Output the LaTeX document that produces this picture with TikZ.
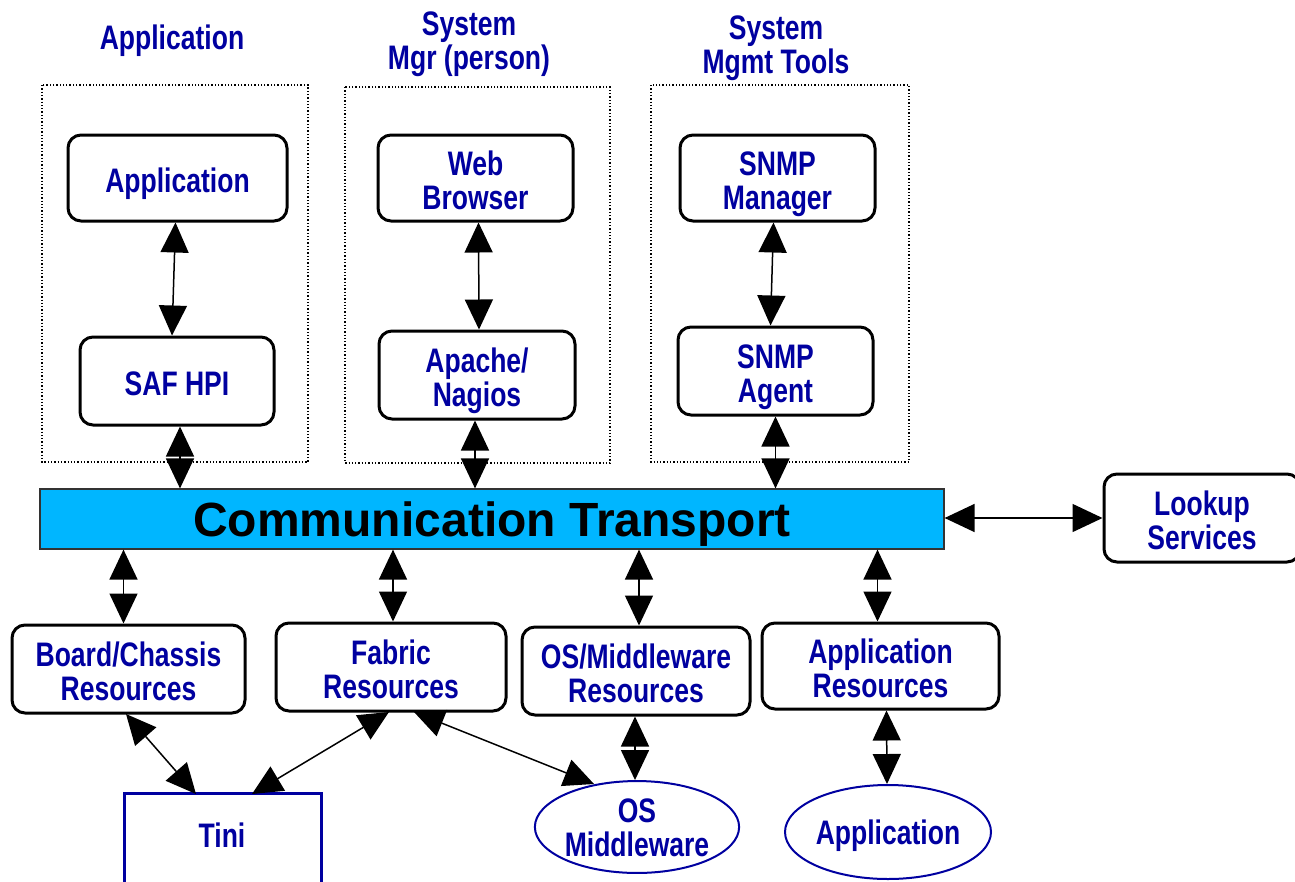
\documentclass[tikz,border=0pt]{standalone}
\usepackage{fontspec}
\setmainfont{Liberation Sans}
\newfontfamily\labfont{Liberation Sans}[FakeStretch=0.78]
\usetikzlibrary{arrows.meta,shapes.geometric}
\definecolor{lblue}{RGB}{0,0,160}
\definecolor{busfill}{RGB}{0,182,255}
% label lines with fixed height and depth, so descenders do not move the text
\newcommand\bl[1]{\rule[-1.5pt]{0pt}{32.5pt}\smash{#1}}
\newcommand\el[1]{\rule[-3pt]{0pt}{31pt}\smash{#1}}
\newcommand\cl[1]{\rule[-2pt]{0pt}{38.5pt}\smash{#1}}
\tikzset{
  lab/.style={font=\labfont\bfseries\fontsize{34}{34}\selectfont, text=lblue, align=center},
  rbox/.style={lab, draw=black, line width=3pt, rounded corners=13pt, fill=white, inner sep=0pt},
  group/.style={draw=black, dotted, line width=1.3pt},
  ell/.style={lab, ellipse, draw=lblue, line width=2pt, inner sep=0pt},
  dbl/.style={{Triangle[length=30pt,width=28pt]}-{Triangle[length=30pt,width=28pt]}, line width=1.5pt},
  ttl/.style={lab, inner sep=0pt}
}
\begin{document}
\begin{tikzpicture}[x=1pt,y=-1pt]
\useasboundingbox (0,0) rectangle (1295,881);

% column headings
\node[ttl] (h1) at (172,35) {\bl{Application}};
\node[ttl] (h2) at (469,38) {\bl{System}\\\bl{Mgr (person)}};
\node[ttl] (h3) at (776,42) {\bl{System}\\\bl{Mgmt Tools}};

% dotted grouping frames
\draw[group] (42,85) rectangle (308,462);
\draw[group] (345,87) rectangle (610,463);
\draw[group] (651,85) rectangle (909,462);

% upper components
\node[rbox, minimum width=219pt, minimum height=86pt] (app) at (177.5,178) {\bl{Application}};
\node[rbox, minimum width=194pt, minimum height=88pt] (saf) at (177,381) {\bl{SAF HPI}};
\node[rbox, minimum width=195pt, minimum height=86pt] (web) at (475.5,178) {\bl{Web}\\\bl{Browser}};
\node[rbox, minimum width=196pt, minimum height=88pt] (apache) at (477,375) {\bl{Apache/}\\\bl{Nagios}};
\node[rbox, minimum width=195pt, minimum height=86pt] (mgr) at (777.5,178) {\bl{SNMP}\\\bl{Manager}};
\node[rbox, minimum width=195pt, minimum height=88pt] (agent) at (775.5,371) {\bl{SNMP}\\\bl{Agent}};

% transport bus
\node[draw=black!80, line width=1.2pt, fill=busfill, minimum width=904pt, minimum height=60pt, inner sep=0pt,
      font=\bfseries\fontsize{48}{48}\selectfont] (comm) at (492,519) {\cl{Communication Transport}};

\node[rbox, minimum width=196pt, minimum height=88pt] (lookup) at (1202,518) {\bl{Lookup}\\\bl{Services}};

% resource components
\node[rbox, minimum width=233pt, minimum height=88pt] (board) at (128.5,669) {\bl{Board/Chassis}\\\bl{Resources}};
\node[rbox, minimum width=230pt, minimum height=88pt] (fabric) at (391,667) {\bl{Fabric}\\\bl{Resources}};
\node[rbox, minimum width=228pt, minimum height=88pt] (osmw) at (636,671) {\bl{OS/Middleware}\\\bl{Resources}};
\node[rbox, minimum width=237pt, minimum height=86pt] (appres) at (880.5,666) {\bl{Application}\\\bl{Resources}};

% managed entities
\node[lab, draw=lblue, line width=3pt, minimum width=197pt, minimum height=110pt, inner sep=0pt] (tini) at (222.5,848) {};
\node[lab] (tinitxt) at (222,833) {\bl{Tini}};
\node[ell, minimum width=204pt, minimum height=90pt] (osm) at (637,827) {\el{OS}\\\el{Middleware}};
\node[ell, minimum width=206pt, minimum height=94pt] (appe) at (888,832) {\el{Application}};

% connectors inside the columns
\draw[dbl] ([xshift=-2pt]app.south) -- ([xshift=-5pt]saf.north);
\draw[dbl] ([xshift=3pt]web.south) -- ([xshift=2pt]apache.north);
\draw[dbl] ([xshift=-4pt]mgr.south) -- ([xshift=-5pt]agent.north);

% connectors to the bus
\draw[dbl] ([xshift=3pt]saf.south) -- ([xshift=3pt]saf.south |- comm.north);
\draw[dbl] ([xshift=-2pt]apache.south) -- ([xshift=-2pt]apache.south |- comm.north);
\draw[dbl] ([xshift=0pt]agent.south) -- ([xshift=0pt]agent.south |- comm.north);
\draw[dbl] (comm.east |- lookup.west) -- (lookup.west);
\draw[dbl] ([xshift=-5pt]board.north |- comm.south) -- ([xshift=-5pt]board.north);
\draw[dbl] ([xshift=2pt]fabric.north |- comm.south) -- ([xshift=2pt]fabric.north);
\draw[dbl] ([xshift=3pt]osmw.north |- comm.south) -- ([xshift=3pt]osmw.north);
\draw[dbl] ([xshift=-3pt]appres.north |- comm.south) -- ([xshift=-3pt]appres.north);

% lower connectors
\draw[dbl] (126,714) -- (196,794);
\draw[dbl] (389,712) -- (252,794);
\draw[dbl] (414,712) -- (594,784);
\draw[dbl] ([xshift=-1pt]osmw.south) -- ([xshift=-2pt]osm.north);
\draw[dbl] ([xshift=6pt]appres.south) -- ([xshift=-1pt]appe.north);
\end{tikzpicture}
\end{document}
